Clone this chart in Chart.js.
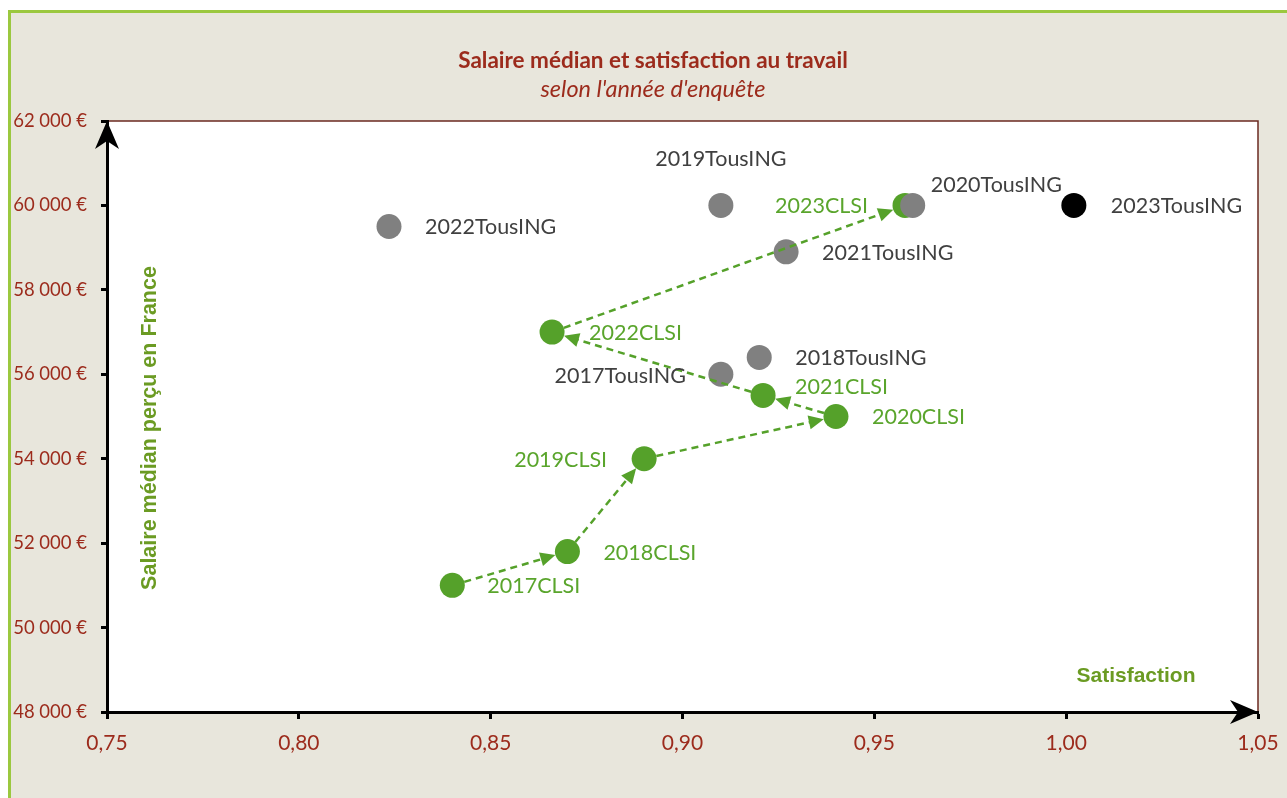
<!DOCTYPE html>
<html>
<head>
<meta charset="utf-8">
<script src="https://cdn.jsdelivr.net/npm/chart.js@4/dist/chart.umd.min.js"></script>
<style>
  html, body { margin: 0; padding: 0; background: #fff; }
  #wrap { width: 1287px; height: 798px; }
</style>
</head>
<body>
<div id="wrap"><canvas id="salaryChart" width="1287" height="798"></canvas></div>
<script>
// values
const years = ['2017', '2018', '2019', '2020', '2021', '2022', '2023'];
const clsiSatisfaction = [0.840, 0.870, 0.890, 0.940, 0.921, 0.866, 0.958];
const clsiSalary = [51000, 51800, 54000, 55000, 55500, 57000, 60000];
const tousSatisfaction = [0.910, 0.920, 0.910, 0.960, 0.927, 0.8235, 1.002];
const tousSalary = [56000, 56400, 60000, 60000, 58900, 59500, 60000];
const xTickValues = [0.75, 0.80, 0.85, 0.90, 0.95, 1.00, 1.05];
const yTickValues = [48000, 50000, 52000, 54000, 56000, 58000, 60000, 62000];

const RED = '#9c2b1c';
const GREEN = '#55a12a';
const GREEN_TEXT = '#5aa52c';
const TITLE_GREEN = '#6b9b23';
const GRAY = '#808080';
const LABEL_GRAY = '#404040';

// label placement [dx, dy, align] in pixels from the marker centre
const clsiLabelPlace = [[35, 1, 'left'], [36, 1, 'left'], [-37, 1, 'right'], [36, 1, 'left'],
    [32, -8, 'left'], [37, 1, 'left'], [-37, 1, 'right']];
const tousLabelPlace = [[-35, 2, 'right'], [36, 1, 'left'], [0, -46, 'center'], [18, -20, 'left'],
    [36, 1, 'left'], [36, 1, 'left'], [37, 1, 'left']];

const toPoints = (xs, ys) => xs.map((x, i) => ({ x: x, y: ys[i] }));

const frenchNumber = v => Math.round(v).toString().replace(/\B(?=(\d{3})+(?!\d))/g, ' ');

const framePlugin = {
    id: 'frame',
    beforeDraw(chart) {
        const ctx = chart.ctx;
        const a = chart.chartArea;
        ctx.save();
        ctx.fillStyle = '#ffffff';
        ctx.fillRect(0, 0, chart.width, chart.height);
        ctx.fillStyle = '#e8e6dc';
        ctx.fillRect(9, 11, chart.width, chart.height);
        ctx.strokeStyle = '#9bc83f';
        ctx.lineWidth = 3;
        ctx.beginPath();
        ctx.moveTo(9.5, chart.height);
        ctx.lineTo(9.5, 11.5);
        ctx.lineTo(chart.width, 11.5);
        ctx.stroke();
        ctx.fillStyle = '#ffffff';
        ctx.fillRect(a.left, a.top, a.right - a.left, a.bottom - a.top);
        ctx.strokeStyle = '#6b2a20';
        ctx.lineWidth = 1.5;
        ctx.beginPath();
        ctx.moveTo(a.left, a.top);
        ctx.lineTo(a.right, a.top);
        ctx.lineTo(a.right, a.bottom);
        ctx.stroke();

        // titles
        ctx.textAlign = 'center';
        ctx.textBaseline = 'middle';
        ctx.fillStyle = RED;
        ctx.font = 'bold 22.5px Lato';
        ctx.fillText('Salaire médian et satisfaction au travail', 653, 61);
        ctx.font = 'italic 23.5px Lato';
        ctx.fillText("selon l'année d'enquête", 653, 89);
        ctx.restore();
    },
    afterDraw(chart) {
        const ctx = chart.ctx;
        const a = chart.chartArea;
        ctx.save();
        // axis arrows
        ctx.fillStyle = '#000';
        ctx.beginPath();
        ctx.moveTo(a.left, a.top);
        ctx.lineTo(a.left - 12, a.top + 28);
        ctx.lineTo(a.left, a.top + 20);
        ctx.lineTo(a.left + 12, a.top + 28);
        ctx.closePath();
        ctx.fill();
        ctx.beginPath();
        ctx.moveTo(a.right, a.bottom);
        ctx.lineTo(a.right - 28, a.bottom - 12);
        ctx.lineTo(a.right - 20, a.bottom);
        ctx.lineTo(a.right - 28, a.bottom + 12);
        ctx.closePath();
        ctx.fill();

        // axis titles inside the plot area
        ctx.fillStyle = TITLE_GREEN;
        ctx.font = 'bold 21px "Liberation Sans"';
        ctx.textAlign = 'center';
        ctx.textBaseline = 'middle';
        ctx.fillText('Satisfaction', 1136, 676);
        ctx.translate(150, 428);
        ctx.rotate(-Math.PI / 2);
        ctx.font = 'bold 21.5px "Liberation Sans"';
        ctx.fillText('Salaire médian perçu en France', 0, 0);
        ctx.restore();
    }
};

const arrowsPlugin = {
    id: 'arrows',
    afterDatasetsDraw(chart) {
        const ctx = chart.ctx;
        const xs = chart.scales.x;
        const ys = chart.scales.y;
        const r = 12.5;
        ctx.save();
        ctx.strokeStyle = GREEN;
        ctx.fillStyle = GREEN;
        ctx.lineWidth = 2.5;
        for (let i = 0; i < clsiSatisfaction.length - 1; i++) {
            const x0 = xs.getPixelForValue(clsiSatisfaction[i]);
            const y0 = ys.getPixelForValue(clsiSalary[i]);
            const x1 = xs.getPixelForValue(clsiSatisfaction[i + 1]);
            const y1 = ys.getPixelForValue(clsiSalary[i + 1]);
            const ang = Math.atan2(y1 - y0, x1 - x0);
            const sx = x0 + Math.cos(ang) * r;
            const sy = y0 + Math.sin(ang) * r;
            const tx = x1 - Math.cos(ang) * r;
            const ty = y1 - Math.sin(ang) * r;
            const hl = 15;
            const hw = 7;
            const bx = tx - Math.cos(ang) * hl;
            const by = ty - Math.sin(ang) * hl;
            ctx.setLineDash([7, 5]);
            ctx.beginPath();
            ctx.moveTo(sx, sy);
            ctx.lineTo(bx + Math.cos(ang) * 4, by + Math.sin(ang) * 4);
            ctx.stroke();
            ctx.setLineDash([]);
            ctx.beginPath();
            ctx.moveTo(tx, ty);
            ctx.lineTo(bx - Math.sin(ang) * hw, by + Math.cos(ang) * hw);
            ctx.lineTo(bx + Math.sin(ang) * hw, by - Math.cos(ang) * hw);
            ctx.closePath();
            ctx.fill();
        }
        ctx.restore();
    }
};

const labelsPlugin = {
    id: 'pointLabels',
    afterDatasetsDraw(chart) {
        const ctx = chart.ctx;
        const xs = chart.scales.x;
        const ys = chart.scales.y;
        ctx.save();
        ctx.font = '21.5px Lato';
        ctx.textBaseline = 'middle';
        const draw = (sat, sal, suffix, place, color) => {
            sat.forEach((v, i) => {
                const px = xs.getPixelForValue(v);
                const py = ys.getPixelForValue(sal[i]);
                ctx.fillStyle = color;
                ctx.textAlign = place[i][2];
                ctx.fillText(years[i] + suffix, px + place[i][0], py + place[i][1]);
            });
        };
        draw(tousSatisfaction, tousSalary, 'TousING', tousLabelPlace, LABEL_GRAY);
        draw(clsiSatisfaction, clsiSalary, 'CLSI', clsiLabelPlace, GREEN_TEXT);
        ctx.restore();
    }
};

document.addEventListener('DOMContentLoaded', function () {
    const ctx = document.getElementById('salaryChart');

    new Chart(ctx, {
        type: 'scatter',
        data: {
            datasets: [{
                label: 'CLSI',
                data: toPoints(clsiSatisfaction, clsiSalary),
                backgroundColor: GREEN,
                borderWidth: 0,
                pointRadius: 12.5,
                order: 3
            }, {
                label: 'TousING',
                data: toPoints(tousSatisfaction, tousSalary),
                backgroundColor: years.map(y => y === '2023' ? '#000000' : GRAY),
                borderWidth: 0,
                pointRadius: 12.5,
                order: 2
            }]
        },
        options: {
            responsive: false,
            animation: false,
            layout: { padding: { left: 0, top: 121, right: 29, bottom: 0 } },
            plugins: {
                legend: { display: false },
                tooltip: { enabled: false },
                title: { display: false }
            },
            scales: {
                x: {
                    type: 'linear',
                    min: 0.75,
                    max: 1.05,
                    afterBuildTicks: s => { s.ticks = xTickValues.map(v => ({ value: v })); },
                    afterFit: s => {
                        s.height = 86;
                        s.paddingLeft = 0;
                        s.paddingRight = 0;
                    },
                    grid: {
                        drawOnChartArea: false,
                        drawTicks: true,
                        tickLength: 7,
                        tickWidth: 3,
                        tickColor: '#000'
                    },
                    border: { color: '#000', width: 3 },
                    ticks: {
                        padding: 12,
                        color: RED,
                        font: { family: 'Lato', size: 21 },
                        callback: v => v.toFixed(2).replace('.', ',')
                    }
                },
                y: {
                    type: 'linear',
                    min: 48000,
                    max: 62000,
                    afterBuildTicks: s => { s.ticks = yTickValues.map(v => ({ value: v })); },
                    afterFit: s => {
                        s.width = 107;
                        s.paddingTop = 0;
                        s.paddingBottom = 0;
                    },
                    grid: {
                        drawOnChartArea: false,
                        drawTicks: true,
                        tickLength: 6,
                        tickWidth: 3,
                        tickColor: '#000'
                    },
                    border: { color: '#000', width: 3 },
                    ticks: {
                        padding: 14,
                        color: RED,
                        font: { family: 'Lato', size: 18.5 },
                        callback: v => frenchNumber(v) + ' €'
                    }
                }
            }
        },
        plugins: [framePlugin, arrowsPlugin, labelsPlugin]
    });
});
</script>
</body>
</html>
